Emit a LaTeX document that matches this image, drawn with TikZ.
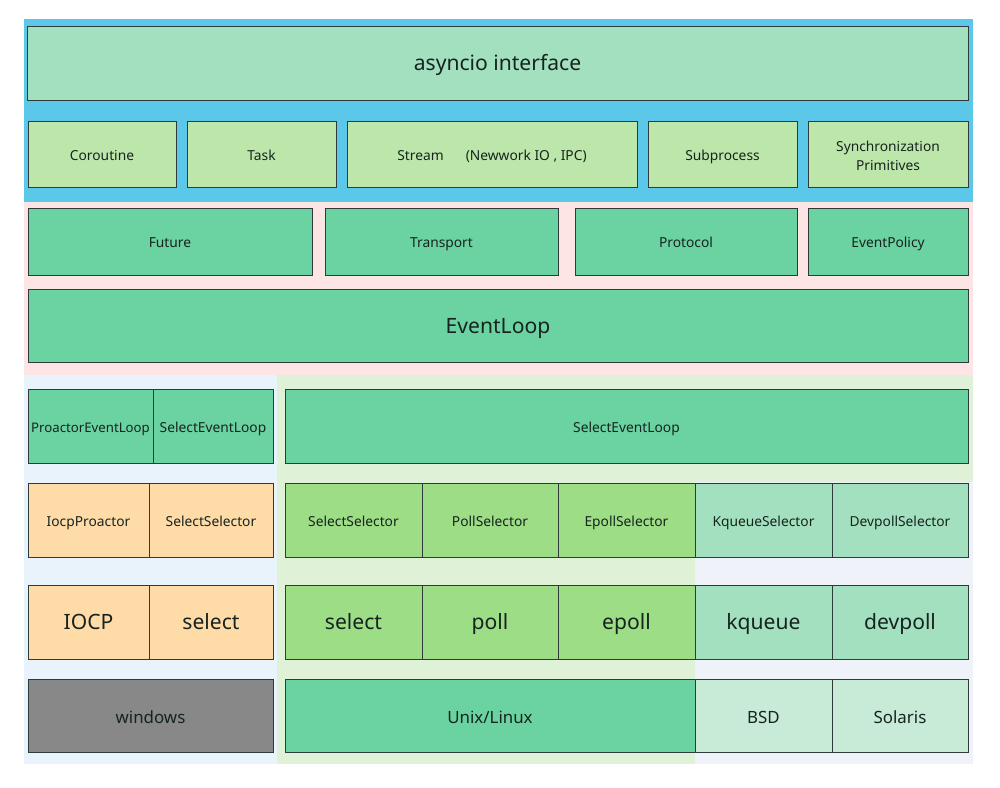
\documentclass[tikz,border=0pt]{standalone}
\usepackage{fontspec}
\setmainfont{Noto Sans}
\usetikzlibrary{chains, positioning}

\definecolor{skyband}{HTML}{5BC8EA}
\definecolor{pinkband}{HTML}{FDE5E5}
\definecolor{winband}{HTML}{E8F3FC}
\definecolor{unixband}{HTML}{DFF2D8}
\definecolor{bsdband}{HTML}{F0F2FA}
\definecolor{apifill}{HTML}{A3E0C0}
\definecolor{userfill}{HTML}{BDE6AA}
\definecolor{loopfill}{HTML}{6BD2A1}
\definecolor{winfill}{HTML}{FFDBA8}
\definecolor{unixfill}{HTML}{9DDD86}
\definecolor{bsdfill}{HTML}{A3E0C0}
\definecolor{osgray}{HTML}{888888}
\definecolor{osmint}{HTML}{C8EBD8}
\definecolor{edgecol}{HTML}{2F3B3A}
\definecolor{inkcol}{HTML}{16241F}

\newcommand{\px}{0.025cm}

\tikzset{
    cell/.style={draw=edgecol, line width=0.6pt, inner sep=0pt, outer sep=0pt, text=inkcol,
        align=center, text height=0.95em, text depth=0.08em, font=\fontsize{9.8}{12}\selectfont},
    boxw/.style={minimum width=#1*\px},
    boxh/.style={minimum height=#1*\px},
    bigtxt/.style={font=\fontsize{15}{18}\selectfont, text height=1.1em, text depth=0em},
    midtxt/.style={font=\fontsize{12}{14}\selectfont, text height=1.1em, text depth=0em}
}

\begin{document}
\begin{tikzpicture}[x=0.025cm, y=-0.025cm, node distance=0mm]
\useasboundingbox (0,0) rectangle (1000,788);

% layer backgrounds
\fill[skyband] (24,19) rectangle (973,202);
\fill[pinkband] (24,202) rectangle (973,375);
\fill[winband] (24,375) rectangle (277,764);
\fill[unixband] (277,375) rectangle (973,482);
\fill[unixband] (277,482) rectangle (695,764);
\fill[bsdband] (695,482) rectangle (973,764);

% user api
\node[cell, fill=apifill, bigtxt, boxw=941, boxh=74, anchor=north west] (api) at (27,26) {asyncio interface};

\node[cell, fill=userfill, boxw=148, boxh=66, anchor=north west] (coro) at (28,121) {Coroutine};
\node[cell, fill=userfill, boxw=149, boxh=66, right=0.275cm of coro] (task) {Task};
\node[cell, fill=userfill, boxw=290, boxh=66, right=0.275cm of task] (stream) {Stream\hspace{1.6em}(Newwork IO , IPC)};
\node[cell, fill=userfill, boxw=149, boxh=66, right=0.275cm of stream] (subproc) {Subprocess};
\node[cell, fill=userfill, boxw=160, boxh=66, right=0.275cm of subproc, text height=, text depth=,
    font=\fontsize{9.8}{14}\selectfont] (sync) {\rule{0pt}{10pt}Synchronization\\Primitives};

% low level
\node[cell, fill=loopfill, boxw=284, boxh=67, anchor=north west] (future) at (28,208) {Future};
\node[cell, fill=loopfill, boxw=233, boxh=67, right=0.325cm of future] (transport) {Transport};
\node[cell, fill=loopfill, boxw=222, boxh=67, right=0.425cm of transport] (protocol) {Protocol};
\node[cell, fill=loopfill, boxw=160, boxh=67, right=0.275cm of protocol] (policy) {EventPolicy};

\node[cell, fill=loopfill, bigtxt, boxw=940, boxh=73, anchor=north west] (loop) at (28,289) {EventLoop};

% event loops
\begin{scope}[start chain]
    \node[cell, fill=loopfill, boxw=125, boxh=74, anchor=north west, on chain,
        font=\fontsize{9.4}{12}\selectfont] (proloop) at (28,389) {ProactorEventLoop};
    \node[cell, fill=loopfill, boxw=120, boxh=74, on chain] (winloop) {SelectEventLoop};
\end{scope}
\node[cell, fill=loopfill, boxw=683, boxh=74, right=0.3cm of winloop] (unixloop) {SelectEventLoop};

% selectors
\begin{scope}[start chain]
    \node[cell, fill=winfill, boxw=121, boxh=74, anchor=north west, on chain] (iocpsel) at (28,483) {IocpProactor};
    \node[cell, fill=winfill, boxw=124, boxh=74, on chain] (winsel) {SelectSelector};
\end{scope}
\begin{scope}[start chain]
    \node[cell, fill=unixfill, boxw=137, boxh=74, anchor=north west, on chain] (selsel) at (285,483) {SelectSelector};
    \node[cell, fill=unixfill, boxw=136, boxh=74, on chain] (pollsel) {PollSelector};
    \node[cell, fill=unixfill, boxw=137, boxh=74, on chain] (epollsel) {EpollSelector};
    \node[cell, fill=bsdfill, boxw=137, boxh=74, on chain] (kqsel) {KqueueSelector};
    \node[cell, fill=bsdfill, boxw=136, boxh=74, on chain] (devsel) {DevpollSelector};
\end{scope}

% system calls
\begin{scope}[start chain]
    \node[cell, fill=winfill, bigtxt, boxw=121, boxh=74, anchor=north west, on chain] (iocp) at (28,585) {IOCP};
    \node[cell, fill=winfill, bigtxt, boxw=124, boxh=74, on chain] (winselect) {select};
\end{scope}
\begin{scope}[start chain]
    \node[cell, fill=unixfill, bigtxt, boxw=137, boxh=74, anchor=north west, on chain] (select) at (285,585) {select};
    \node[cell, fill=unixfill, bigtxt, boxw=136, boxh=74, on chain] (poll) {poll};
    \node[cell, fill=unixfill, bigtxt, boxw=137, boxh=74, on chain] (epoll) {epoll};
    \node[cell, fill=bsdfill, bigtxt, boxw=137, boxh=74, on chain] (kqueue) {kqueue};
    \node[cell, fill=bsdfill, bigtxt, boxw=136, boxh=74, on chain] (devpoll) {devpoll};
\end{scope}

% operating systems
\node[cell, fill=osgray, midtxt, boxw=245, boxh=73, anchor=north west] (windows) at (28,679) {windows};
\begin{scope}[start chain]
    \node[cell, fill=loopfill, midtxt, boxw=410, boxh=73, anchor=north west, on chain] (unix) at (285,679) {Unix/Linux};
    \node[cell, fill=osmint, midtxt, boxw=137, boxh=73, on chain] (bsd) {BSD};
    \node[cell, fill=osmint, midtxt, boxw=136, boxh=73, on chain] (solaris) {Solaris};
\end{scope}

\end{tikzpicture}
\end{document}
